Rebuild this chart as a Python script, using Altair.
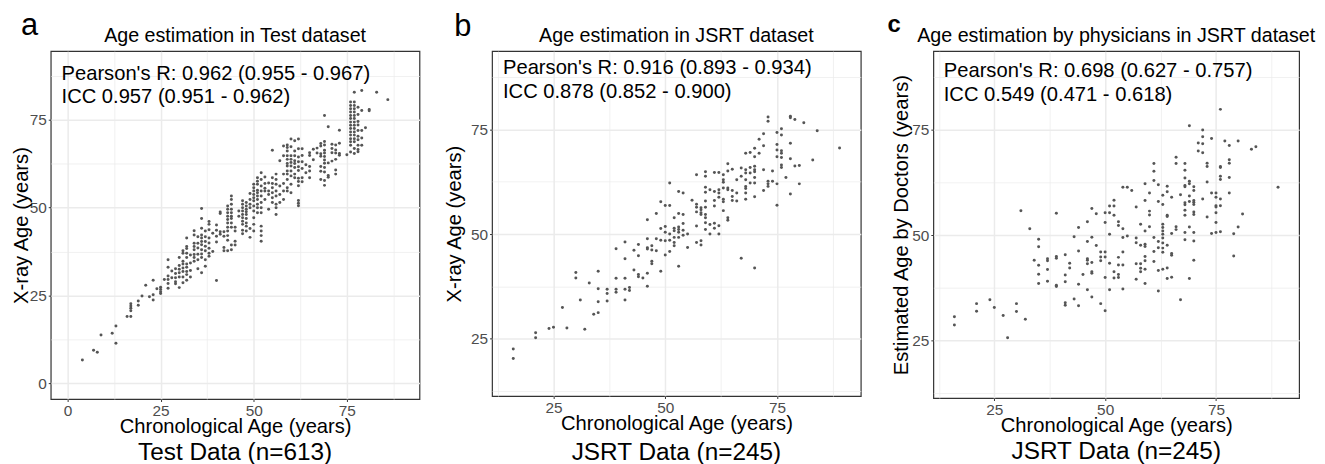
import altair as alt
import pandas as pd

FONT = "Liberation Sans"

# ---------------- Panel a: Test data (chronological age -> list of X-ray ages)
a_age = [4, 7, 8, 9, 12, 13, 16, 17, 19, 20, 21, 22, 23, 24, 25, 26, 27, 28, 29, 30,
         31, 32, 33, 34, 35, 36, 37, 38, 39, 40, 41, 42, 43, 44, 45, 46, 47, 48, 49, 50,
         51, 52, 53, 54, 55, 56, 57, 58, 59, 60, 61, 62, 63, 64, 65, 66, 67, 68, 69, 70,
         71, 72, 73, 75, 76, 77, 78, 79, 80, 81, 83, 86]
a_xray = [
    [6.6], [9.4], [8.8], [13.7], [14.2], [16.3, 11.4], [19], [19, 20.6, 21.3, 22, 22.6],
    [23.4, 22.2], [24.8], [27.9], [24.6], [25.2, 23.7, 29.3], [26.9], [26.7, 26, 25.5, 27.3],
    [29.5], [29.5, 28.4, 27, 30.5, 33, 35.1], [31.9, 30], [30, 32.6, 31.2, 28.9, 28.3],
    [27.2, 35.8, 33.5, 32.4, 31.4, 30.2],
    [37.7, 37, 34.7, 33.9, 32.8, 31.8, 30.2, 28.6],
    [41.3, 38.9, 38.3, 37, 35.8, 33.9, 33, 31.8, 30.9, 29.3],
    [34.2, 32.1, 30.2, 36.5],
    [43.4, 42.2, 39.8, 38.9, 38, 36.6, 35.8, 34.7],
    [41.7, 39.8, 36.7, 35.1, 32.6, 38.5],
    [49.7, 46.9, 44.1, 42.2, 41.3, 40.3, 39.4, 38, 36.8, 35.8, 31.4],
    [43.3, 41.7, 40.3, 37.7, 35.1, 33.3, 39],
    [46, 43.7, 41.3, 38.4, 37, 45.2, 39.9, 36.1],
    [42.7, 37.5],
    [29.2, 45, 43.5, 41.8, 40.2],
    [48.3, 43.1, 42.4, 48.7],
    [43.1, 37.7, 38.6, 41.8],
    [50.4, 49.5, 48.5, 47.5, 46.6, 45.6, 44.4, 43.3, 42, 40.7, 37.7],
    [53.3, 52.3, 50.9, 49.5, 48.5, 47.5, 46.9, 45.6, 44.4, 39.3, 38],
    [44.4, 43.3, 40.4, 39.3],
    [49, 47.5],
    [51.9, 50.9, 49.9, 49, 48, 47.1, 46.1, 45.2, 43.5, 42.5],
    [51.4, 50.4, 49.5, 48.8, 48, 46.9, 45.6, 44.7, 43.3],
    [54, 52.3, 50.9, 49.9, 44, 41.5],
    [56.6, 55.6, 54.7, 53.7, 52.8, 51.9, 50.4, 49, 47.1, 45.2, 43.3],
    [58.5, 57.5, 56.6, 54.9, 54.2, 53.3, 52.3, 50.9, 49.9, 48.5],
    [59.9, 58, 56.1, 54.7, 53.3, 51.4, 49.9, 48.5, 44.7, 43.3, 40.4, 42],
    [58.7, 56.8, 54.7, 52.3, 55.5],
    [54.7, 53.7, 49.5, 57],
    [66.3, 58.5, 56.8, 55.6, 54.2, 52.8, 51.4],
    [59.5, 58, 56.6, 54.7, 53.3, 50.9, 49.9, 48],
    [63.3, 56.1, 53.7, 51.4],
    [67.5, 64.7, 59.5, 56.8, 54.7, 52.3],
    [67.8, 67.1, 66.1, 64.7, 63.7, 62.5, 61.8, 60.4, 59.5, 58, 55.6, 54.7],
    [67.3, 64.7, 63.7, 62.8, 61.8, 60.4, 59, 56.6, 54.2, 69.5],
    [69, 66.1, 64.7, 63.3, 61.4, 59.5, 58.5, 62.5],
    [69.5, 66.7, 64.4, 63, 61.6, 60.5, 58.3, 57.4, 56.2, 52, 50.5, 51.2],
    [66.7, 64.8, 63, 61.1, 58.5, 57.3],
    [62.2, 59.9],
    [64.8, 61.7, 58.5, 65.6, 60.4],
    [66.6, 63.6],
    [66.9, 65.5],
    [68.2, 67.5, 65.3, 64.6, 61.7, 60.3, 58],
    [76.2, 68.8, 67.8, 66.3, 65.5, 64.5, 63.5, 62.6, 61.4, 60.1, 57.7, 56.3],
    [73, 62.7, 59.1, 58.6],
    [68, 66.8, 65.6, 63.2],
    [66.4, 65.5, 63.7, 60.7, 59.5, 67.8],
    [72, 65.4, 64.9, 68.3],
    [65],
    [80, 79, 78.1, 77.2, 76.2, 75.3, 74.3, 73.4, 72.5, 71.5, 70.6, 69.6, 68.7, 67.7, 65.8],
    [82.8, 80, 79, 78.1, 77.2, 76.2, 75.3, 74.3, 73.4, 72.5, 71.5, 70.6, 69.6, 68.7, 66.8, 65.4],
    [78.5, 76.5, 73.5, 71.9, 70.3, 69.3, 67.7, 66.5, 65.9, 74.5],
    [83.3, 77.6, 71.9, 69.8, 67.7],
    [72.7],
    [77.5, 77.9],
    [82.8],
    [80.7],
]

# ---------------- Panel b: JSRT data, model estimate
b_age = [16, 21, 24, 25, 27, 28, 30, 31, 32, 33, 34, 35, 37, 39, 41, 42, 43, 44, 45, 46,
         47, 48, 49, 50, 51, 52, 53, 54, 55, 56, 57, 58, 59, 60, 61, 62, 63, 64, 65, 66,
         67, 68, 69, 70, 71, 72, 73, 74, 75, 76, 77, 78, 79, 80, 81, 83, 84, 89]
b_xray = [
    [22.5, 20.2], [26.4, 25.2], [27.4], [27.7], [32.4], [27.5], [40.8, 39.5], [34.2], [27.2],
    [38.3], [30.8], [41.1, 36.9, 33.8, 31.2], [36.8, 35.8, 34], [46.5, 39.4, 36.8, 36.1],
    [48.1, 44.1, 39.4, 36.8, 34.2], [37.2, 36.5], [46.1, 41.4], [47.5, 44.8, 40.3, 39.8],
    [39.5], [53.4, 48.9, 46.7, 46.4, 40.6, 37.5], [47.2, 46.2, 43.5, 42.9], [54.9, 48.9, 46],
    [57.7, 51.3, 48.5, 41.1], [56.8, 51.8, 50.4, 48.4, 45], [62.2, 56.8, 50, 48.5, 45.8],
    [53.9, 51.4, 50.8, 49.2, 48, 47.2], [60.2, 54.9, 51.7, 51.1, 50.4, 49.2, 42.3],
    [59.8, 54.7, 52.5, 50.9, 49.7], [50, 46.8], [58.1], [64.2, 57.1, 56.4, 55.3, 51.9, 48],
    [56.3, 55.8, 55.1, 54.7, 48.4, 47.4], [64.9, 63.8, 61.2, 60, 57.9, 56.4, 54.7, 53.9, 52.7, 51.1],
    [60.6, 52.3, 50], [64.7, 60.2, 58, 56.7, 52.6, 51.4], [64.7, 60.6, 59.8, 58.8, 52, 50],
    [64.2, 63, 62.4, 61, 58.3, 57.7, 55.6], [66.8, 65.1, 61, 60.6, 53.9, 53.3],
    [65.5, 60.4, 59, 58], [63, 59.8, 57.9], [65.8, 63.8, 44.2],
    [69.3, 65.4, 64.6, 63, 61.4, 60.9, 59.8, 58.3], [69.5, 65.9, 64.6, 62.2],
    [70.5, 68.5, 66.2, 65.4, 64.9, 63.5, 62.2, 58.9, 41.9], [72.7, 69.3], [74, 71.1, 65.4, 60.4],
    [78, 77, 62.6, 62, 61.4], [65.1, 62.6], [74.3, 71.4, 70.1, 68.5, 62, 56.9],
    [75.2, 73.7, 69.9, 69.3, 68.3, 66.5, 65.9], [63.5], [78.2, 77.8, 71.7, 68, 59.6],
    [77.4, 66.3], [66.4, 62], [76.6], [67.7], [74.7], [70.6],
]

# ---------------- Panel c: JSRT data, physicians' estimate
c_age = [16, 21, 24, 25, 27, 28, 30, 31, 32, 33, 34, 35, 37, 39, 41, 42, 43, 44, 45, 46,
         47, 48, 49, 50, 51, 52, 53, 54, 55, 56, 57, 58, 59, 60, 61, 62, 63, 64, 65, 66,
         67, 68, 69, 70, 71, 72, 73, 74, 75, 76, 77, 78, 79, 80, 81, 83, 84, 89]
c_doctor = [
    [30.6, 28.6], [33.7, 31.9], [34.6], [32.8], [30.9], [25.6], [33.7, 31.8], [55.8], [30],
    [51.5], [44], [49, 47.2, 42.8, 40.7, 38.5], [44.4, 43.9, 41.8, 39],
    [55.2, 44.9, 44.5, 38.1, 37.8], [45.3, 40.5, 38.9, 33.9, 33.3], [43.3, 42.2], [49.6, 34.8],
    [51.8, 46.2, 38.3, 33.2], [40.6], [53.2, 48.5, 44.4, 44, 43.2, 37],
    [56.3, 49.5, 43.5, 41.3, 40.9, 35.3], [55.1, 47.5], [46, 44.8, 43.9, 33.7],
    [55.3, 53, 46, 44.8, 39.9, 32], [56.9, 55.3, 50.2, 43.3, 37], [58.3, 56.9, 54.7, 41.3, 39.8],
    [53.2, 52.3, 44.7, 42.9, 40.6, 39.9], [61.4, 51.5, 49.4, 46, 42.9, 37.2], [61.4, 49.8],
    [60.6], [56.7, 49.3, 48.2, 43.2, 39.5], [52.6, 47.6, 43.2, 42.1, 41.3],
    [62.2, 58.2, 51, 47.8, 47.3, 44.9, 43.9, 41.9, 38.5], [60, 55.7, 54.8, 52],
    [67, 65.2, 63, 49.4, 46.1, 43.7], [62, 58, 48.5, 47, 41.6, 36.7],
    [59.5, 57.3, 52.6, 51.8, 51, 50.2, 49.3, 48.1, 46.9, 45.9, 41.9],
    [61.6, 60.3, 54.7, 54.4, 47.6, 42.2, 39.7], [59, 50.4, 45.6, 45.2, 40],
    [68.5, 67, 52, 51.3], [59.6, 34.6],
    [67, 65.4, 63.6, 61.8, 61.5, 57.7, 57.2, 55.9, 54.7, 50.6, 48.9],
    [76, 62.8, 62.2, 59.3, 58, 51.9, 39.7],
    [61.5, 60.6, 58.2, 57.8, 57.3, 55.5, 54.9, 50.6, 48.6, 44],
    [71.9, 70], [75, 73.4, 71.7, 69.6, 58.6], [67.1, 66.3, 62.6, 54.3], [73, 60, 50.4],
    [60, 59, 57, 56.7, 55.3, 53, 50.6], [79.9, 66.3, 66.1, 64, 63.2, 58.6, 57, 50.8], [72.4],
    [71.3, 67.9, 67.1, 63.7, 60], [50.3, 45], [72.4, 51.9], [55], [70.4], [71], [61.4],
]

letters = ["a", "b", "c"]
titles = ["Age estimation in Test dataset", "Age estimation in JSRT dataset",
          "Age estimation by physicians in JSRT dataset"]
y_titles = ["X-ray Age (years)", "X-ray Age (years)", "Estimated Age by Doctors (years)"]
x_title = "Chronological Age (years)"
captions = ["Test Data (n=613)", "JSRT Data (n=245)", "JSRT Data (n=245)"]
stat_lines = [
    ["Pearson's R: 0.962 (0.955 - 0.967)", "ICC 0.957 (0.951 - 0.962)"],
    ["Pearson's R: 0.916 (0.893 - 0.934)", "ICC 0.878 (0.852 - 0.900)"],
    ["Pearson's R: 0.698 (0.627 - 0.757)", "ICC 0.549 (0.471 - 0.618)"],
]
stat_x = [-1.6, 13.7, 13.6]
stat_y = [[86.4, 79.6], [88.3, 82.5], [87.5, 82.0]]
domains = [[-4.5, 94.5], [11.25, 93.75], [11.25, 93.75]]
grid_values = [0, 12.5, 25, 37.5, 50, 62.5, 75, 87.5]


def flatten(ages, vals):
    xs, ys = [], []
    for a, vs in zip(ages, vals):
        for v in vs:
            xs.append(a)
            ys.append(v)
    return pd.DataFrame({"age": xs, "est": ys})


MAJOR = "datum.value % 25 === 0"


def make_axis(title, vals, **kw):
    return alt.Axis(
        values=vals, title=title, grid=True, domain=False,
        gridColor="#ebebeb",
        gridWidth={"condition": {"test": MAJOR, "value": 1.5}, "value": 0.7},
        tickOpacity={"condition": {"test": MAJOR, "value": 1}, "value": 0},
        tickColor="#333333", tickSize=2.5, tickWidth=1,
        labelExpr=MAJOR + " ? datum.label : ''",
        labelFont=FONT, labelFontSize=15.5, labelColor="#4d4d4d", labelPadding=2,
        titleFont=FONT, titleFontSize=20.3, titleColor="black", titleFontWeight="normal",
        titleBaseline="alphabetic", labelOverlap=False, **kw)


def panel(i, df, w, h, ytx, letter_dx, letter_dy, letter_size, letter_weight, cap_y):
    dom = domains[i]
    vals = [v for v in grid_values if dom[0] <= v <= dom[1]]
    scale = alt.Scale(domain=dom, nice=False, zero=False)
    pts = alt.Chart(df).mark_circle(size=9, color="#555555", opacity=1).encode(
        x=alt.X("age:Q", scale=scale,
                axis=make_axis(x_title, vals, titleX=w / 2, titleY=33.5, titleAlign="center")),
        y=alt.Y("est:Q", scale=scale,
                axis=make_axis(y_titles[i], vals, titleX=ytx, titleY=h / 2,
                               titleAngle=270, titleAlign="center")),
    )
    sdf = pd.DataFrame({"age": [stat_x[i]] * 2, "est": stat_y[i], "t": stat_lines[i]})
    stats = alt.Chart(sdf).mark_text(align="left", baseline="alphabetic", font=FONT,
                                     fontSize=20.3, color="black").encode(
        x=alt.X("age:Q", scale=scale), y=alt.Y("est:Q", scale=scale), text="t:N")
    one = pd.DataFrame({"k": [0]})
    let = alt.Chart(one).mark_text(align="left", baseline="alphabetic", font=FONT,
                                   fontSize=letter_size, fontWeight=letter_weight,
                                   color="black", text=letters[i]).encode(
        x=alt.value(letter_dx), y=alt.value(letter_dy))
    ttl = alt.Chart(one).mark_text(align="center", baseline="alphabetic", font=FONT,
                                   fontSize=19.8, color="black", text=titles[i]).encode(
        x=alt.value(w / 2), y=alt.value(-9.5))
    cap = alt.Chart(one).mark_text(align="center", baseline="alphabetic", font=FONT,
                                   fontSize=24.5, color="black", text=captions[i]).encode(
        x=alt.value(w / 2), y=alt.value(cap_y))
    return alt.layer(pts, stats, let, ttl, cap).properties(width=w, height=h)


pa = panel(0, flatten(a_age, a_xray), 371, 350, -23, -30, -16, 31, "normal", 411)
pb = panel(1, flatten(b_age, b_xray), 371, 347, -32, -38, -15.5, 31, "normal", 411)
pc = panel(2, flatten(c_age, c_doctor), 368, 349, -26.5, -46, -19, 24, "bold", 410)

chart = alt.hconcat(pa, pb, pc, spacing=73, bounds="flush").properties(
    padding={"left": 3, "top": 0, "right": 0, "bottom": 0}, background="white"
).configure_view(stroke="#333333", strokeWidth=1.2)

chart.save("out.html", embed_options={"renderer": "svg", "actions": False})
